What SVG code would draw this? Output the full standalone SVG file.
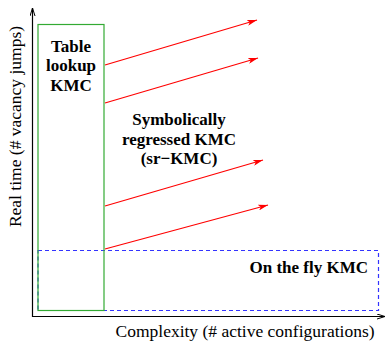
<svg xmlns="http://www.w3.org/2000/svg" width="385" height="343" viewBox="0 0 385 343">
<defs>
<marker id="ra" viewBox="0 0 10 6" refX="10" refY="3" markerWidth="10" markerHeight="6" markerUnits="userSpaceOnUse" orient="auto">
<path d="M0,0 L10,3 L0,6 L2.5,3 Z" fill="#ff0000"/>
</marker>
<marker id="ka" viewBox="0 0 8 6" refX="8" refY="3" markerWidth="8" markerHeight="6" markerUnits="userSpaceOnUse" orient="auto">
<path d="M0,0.5 L8,3 L0,5.5" fill="none" stroke="#000" stroke-width="1"/>
</marker>
</defs>
<style>
text{font-family:'Liberation Serif','DejaVu Serif',serif;fill:#000}
.bold{font-weight:bold;font-size:17px}
.reg{font-size:17.5px}
.axis{stroke:#000;stroke-width:1.2;fill:none}
.red{stroke:#ff0000;stroke-width:1.2;fill:none}
</style>
<rect width="385" height="343" fill="#fff"/>
<g id="axes">
<line class="axis" x1="32.5" y1="317" x2="32.5" y2="8" marker-end="url(#ka)"/>
<line class="axis" x1="32" y1="316.5" x2="385" y2="316.5" marker-end="url(#ka)"/>
<text class="reg" font-family="Liberation Serif, serif" transform="translate(20.5,126.5) rotate(-90)" text-anchor="middle">Real time (# vacancy jumps)</text>
<text class="reg" font-family="Liberation Serif, serif" x="245" y="337" text-anchor="middle">Complexity (# active configurations)</text>
</g>
<g id="onthefly">
<rect x="38" y="250.5" width="340.5" height="60" fill="none" stroke="#3333ff" stroke-width="1.2" stroke-dasharray="4,3"/>
<text class="bold" x="368" y="272.5" text-anchor="end">On the fly KMC</text>
</g>
<g id="table">
<rect x="38" y="24.5" width="66" height="286" fill="none" stroke="#33aa33" stroke-width="1.2"/>
<text class="bold" x="71" y="52" text-anchor="middle">Table</text>
<text class="bold" x="71" y="71" text-anchor="middle">lookup</text>
<text class="bold" x="71" y="91" text-anchor="middle">KMC</text>
</g>
<g id="srkmc">
<text class="bold" x="179" y="125" text-anchor="middle">Symbolically</text>
<text class="bold" x="179" y="145" text-anchor="middle">regressed KMC</text>
<text class="bold" x="179" y="164" text-anchor="middle">(sr−KMC)</text>
</g>
<g id="connectors">
<line class="red" x1="105" y1="65" x2="257" y2="20" marker-end="url(#ra)"/>
<line class="red" x1="105" y1="103" x2="258" y2="58" marker-end="url(#ra)"/>
<line class="red" x1="105" y1="206" x2="263" y2="160" marker-end="url(#ra)"/>
<line class="red" x1="105" y1="249" x2="268" y2="205" marker-end="url(#ra)"/>
</g>
</svg>
